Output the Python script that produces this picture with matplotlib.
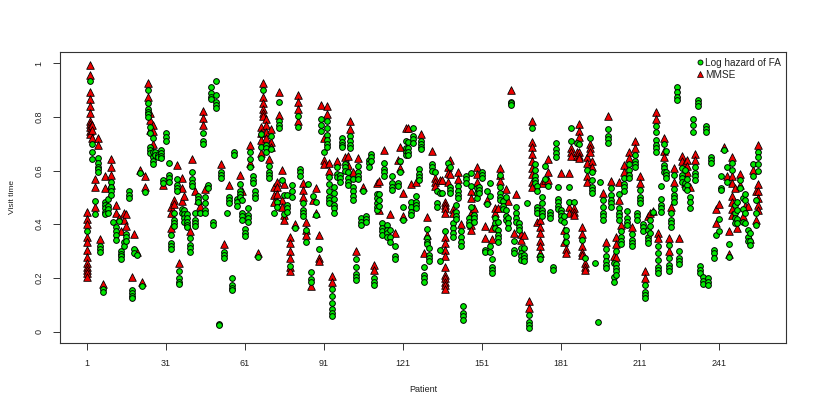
import matplotlib
matplotlib.use('Agg')
import matplotlib.pyplot as plt

plt.rcParams['font.family'] = ['Liberation Sans', 'DejaVu Sans']

x_ticks = [1, 31, 61, 91, 121, 151, 181, 211, 241]
y_ticks = [0, 0.2, 0.4, 0.6, 0.8, 1]
y_tick_labels = ['0', '0.2', '0.4', '0.6', '0.8', '1']

# visit times per patient
mmse_visits = [
    (1, [.445,.42,.40,.354,.332,.302,.277,.255,.242,.23,.217,.205]),
    (2, [.994,.957,.892,.866,.839,.814,.786,.774,.761,.749,.737]),
    (3, [.77,.752,.72]), (4, [.568,.538,.463]), (5, [.72,.696]), (6, [.345]), (7, [.176]),
    (8, [.578,.534]), (10, [.643,.612,.584,.547]), (12, [.471,.441]), (13, [.425]), (14, [.373]),
    (15, [.441,.414]), (16, [.439,.394]), (18, [.202]), (19, [.365]), (20, [.298]), (21, [.602]),
    (22, [.184]), (23, [.578,.537]), (24, [.928,.876]), (25, [.814,.789,.752]), (26, [.77,.748,.698]),
    (30, [.547]), (33, [.466,.441,.385]), (34, [.491,.475]), (35, [.619]), (36, [.255]),
    (37, [.571,.534,.488]), (38, [.506]), (40, [.373]), (41, [.643]), (42, [.525]), (43, [.491]),
    (44, [.468]), (45, [.822,.796,.768]), (46, [.53]), (52, [.624]), (53, [.325]), (55, [.547]),
    (59, [.583]), (60, [.522]), (63, [.696,.627]), (66, [.294]), (67, [.761,.739,.714,.665]),
    (68, [.928,.876,.853,.829,.814,.804]), (69, [.791,.77,.745,.72]), (70, [.643]),
    (71, [.754,.708,.689]), (72, [.538,.509,.484]), (73, [.559,.538,.513]), (74, [.892,.807]),
    (75, [.602,.491,.466]), (76, [.55,.435,.416]), (78, [.354,.329,.301,.273,.242,.226]),
    (80, [.401]), (81, [.882,.857,.83,.783]), (83, [.553,.528,.503]), (84, [.407,.379,.36]),
    (86, [.171]), (87, [.491]), (88, [.534,.441]), (89, [.36,.273,.261]), (90, [.845]),
    (91, [.72,.64,.625]), (92, [.839,.811]), (93, [.627,.6]), (94, [.207,.183]), (96, [.637]),
    (99, [.652]), (100, [.655,.621]), (101, [.784,.754]), (102, [.593]), (103, [.301]), (104, [.645]),
    (106, [.538]), (110, [.248,.23]), (111, [.553]), (112, [.561,.453]), (114, [.676]), (116, [.437]),
    (118, [.369]), (119, [.64]), (120, [.687,.609]), (121, [.516,.432]), (122, [.76]), (123, [.76]),
    (124, [.55]), (126, [.559]), (128, [.735]), (129, [.292]), (130, [.426,.36]), (132, [.673]),
    (133, [.571,.559,.543]), (135, [.565]), (136, [.565]),
    (137, [.484,.472,.46,.441,.354,.329,.304,.28,.242,.211,.199,.186,.174,.158]),
    (138, [.615,.59,.559]), (139, [.64,.588]), (140, [.456,.441]), (142, [.595,.569]), (143, [.401]),
    (147, [.522,.497,.443,.422,.398,.379]), (148, [.46]), (149, [.612,.588,.559]), (152, [.395,.348]),
    (153, [.491]), (155, [.385,.345]), (156, [.46,.441]), (157, [.462]), (158, [.611,.584,.561]),
    (160, [.53]), (161, [.488]), (162, [.899]), (163, [.366]), (164, [.513]), (166, [.363,.342]),
    (167, [.36]), (169, [.112,.087]), (170, [.783,.708,.686,.662,.636,.611,.586,.559,.54]),
    (172, [.41]), (173, [.416,.391,.366,.339,.317,.292]), (174, [.553]), (175, [.565]),
    (176, [.642,.593,.563]), (181, [.59]), (182, [.379,.335]), (183, [.307,.292]), (184, [.59,.466,.441]),
    (185, [.683,.671,.655]), (186, [.46,.447,.435]), (187, [.671,.655]),
    (188, [.774,.749,.724,.671,.655,.646]), (189, [.389,.364,.317,.298,.286]), (190, [.255,.242,.23]),
    (191, [.652,.627,.578,.559]), (192, [.699,.683,.671]), (193, [.637,.615]), (197, [.516]),
    (198, [.333]), (199, [.804]), (200, [.56]), (201, [.28]), (202, [.352,.327,.277]), (203, [.559,.491]),
    (204, [.398]), (205, [.621,.596]), (207, [.671,.646]), (208, [.391]), (209, [.709,.683]),
    (211, [.578,.553]), (213, [.224,.199]), (214, [.429]), (215, [.441]), (216, [.451]), (217, [.817,.793]),
    (218, [.366,.348]), (220, [.723,.673,.652]), (222, [.35,.301]), (223, [.466]), (224, [.609,.559]),
    (226, [.35]), (227, [.655,.634]), (228, [.627,.578,.553]), (229, [.64,.617,.593]), (230, [.54]),
    (232, [.66,.64]), (240, [.456,.404]), (241, [.476]), (243, [.689]), (244, [.578]), (245, [.373,.288]),
    (246, [.652,.578,.553,.506,.481,.456,.435]), (247, [.534]), (248, [.385]), (249, [.588,.547]),
    (250, [.429]), (251, [.468]), (252, [.468]), (253, [.345]), (254, [.602]), (255, [.522,.416]),
    (256, [.696,.549,.522,.497,.472,.453]),
]

fa_visits = [
    (1, [.376]), (2, [.934]), (3, [.698,.668,.643]), (4, [.488,.438]), (5, [.646,.627,.615,.605,.595]),
    (6, [.317,.307,.297]), (7, [.158,.149]), (8, [.484,.472,.46,.447,.438]), (9, [.493,.468,.456,.443]),
    (10, [.559,.538,.523,.508]), (11, [.41]), (12, [.391,.373,.358,.342]), (13, [.411]),
    (14, [.301,.288,.28,.27]), (15, [.335,.317]), (16, [.364,.352,.339]), (17, [.522,.509,.497]),
    (18, [.153,.143,.133,.124]), (19, [.308,.292]), (20, [.286]), (21, [.59]), (22, [.17]), (23, [.519]),
    (24, [.901,.851,.829,.819,.809,.801]), (25, [.764,.739,.689,.677,.667]), (26, [.72,.671,.65,.637,.625]),
    (27, [.671,.658]), (28, [.658,.65]), (29, [.677,.665,.655,.646]), (30, [.565,.553]),
    (31, [.739,.724,.709]), (32, [.627,.584,.571,.559]), (33, [.36,.329,.319,.309]),
    (34, [.441,.416,.404,.394]), (35, [.568,.547,.534,.522]), (36, [.227,.199,.186,.178]), (37, [.456,.441]),
    (38, [.453,.439,.422,.41]), (39, [.439,.422,.41,.398,.389]), (40, [.348,.323,.311,.298]),
    (41, [.596,.568,.555,.543]), (42, [.441,.416,.404,.394]), (43, [.506,.493,.481]), (44, [.443]),
    (45, [.739,.712,.699]), (46, [.503,.478,.453,.441]), (47, [.547,.534]), (48, [.91,.888,.876,.866]),
    (49, [.41,.398]), (50, [.934,.882,.857,.845,.832]), (51, [.029,.024]), (52, [.596,.584,.571]),
    (53, [.298,.286,.273]), (54, [.443]), (55, [.503,.491,.478]), (56, [.201,.174,.161,.153]),
    (57, [.668,.657]), (58, [.493,.481,.468]), (59, [.55,.525,.513,.503]), (60, [.491,.441,.429,.416]),
    (61, [.383,.369,.357]), (62, [.46,.435,.422,.41]), (63, [.671,.643,.615]), (64, [.58,.565,.553]),
    (65, [.525,.509,.497]), (66, [.277]), (67, [.737,.687,.646]), (68, [.901]), (69, [.696,.683,.671]),
    (70, [.617,.596,.584,.571]), (71, [.729,.679]), (72, [.443]), (73, [.484,.463]),
    (74, [.855,.783,.77,.758]), (75, [.563]), (76, [.509,.439]), (77, [.509,.472,.46,.447]), (78, [.246]),
    (79, [.545,.522,.503]), (80, [.385]), (81, [.805,.764]), (82, [.605,.593,.58]),
    (83, [.478,.453,.441,.431]), (84, [.379,.335]), (85, [.55]), (86, [.22,.195,.184]), (87, [.506]),
    (88, [.484,.435]), (89, [.307]), (90, [.791,.77,.748]), (91, [.671]),
    (92, [.786,.76,.733,.714,.699,.687]), (93, [.575,.55,.525,.503,.491,.478]),
    (94, [.158,.133,.108,.083,.068,.058]), (95, [.54,.518,.493,.472,.46,.443]), (96, [.612,.588,.575]),
    (97, [.584,.571,.559]), (98, [.72,.708,.696,.686]), (99, [.625,.612,.6]), (100, [.596,.571,.559,.547]),
    (101, [.727,.712,.696,.683]), (102, [.568,.54,.522,.506,.491]), (103, [.27,.242,.215,.202,.193]),
    (104, [.617,.593,.58,.568]), (105, [.422,.41,.398]), (106, [.523]), (107, [.432,.42,.407]),
    (108, [.64,.627,.615]), (109, [.662,.65,.637]), (110, [.199,.186,.174]), (111, [.512,.497,.478,.466,.453]),
    (112, [.513,.491,.468]), (113, [.406,.385,.373,.36]), (114, [.627,.605,.593,.578]),
    (115, [.398,.379,.366,.354]), (116, [.379,.354,.335]), (117, [.578,.553,.54,.528]), (118, [.32,.28,.27]),
    (119, [.553,.543]), (120, [.637,.593]), (121, [.466,.416]), (122, [.712,.683,.671,.658]),
    (123, [.708,.683,.671,.658]), (124, [.484,.463,.447,.435]), (125, [.76,.729,.717,.704]),
    (126, [.507,.484,.472,.46]), (127, [.605,.588,.575,.563]), (128, [.712,.699,.687,.679]),
    (129, [.242,.211,.199,.186]), (130, [.381,.348,.335,.327]), (131, [.311,.286,.273,.261]),
    (132, [.625,.612,.6]), (133, [.593]), (134, [.524,.478,.466]), (135, [.518,.304,.261]), (136, [.516]),
    (137, [.375]), (138, [.63]), (139, [.612,.54,.528,.516]), (140, [.405,.385,.369,.354]),
    (141, [.47,.445,.432,.42]), (142, [.544,.522,.509,.497]), (143, [.373,.352,.335,.32]),
    (144, [.096,.068,.056,.043]), (145, [.58,.568,.555]), (146, [.422,.41,.398]), (147, [.59,.543,.466]),
    (148, [.435,.422,.41]), (149, [.534,.516,.497]), (150, [.54,.528,.516]), (151, [.596,.584,.571]),
    (152, [.304,.298]), (153, [.525,.476]), (154, [.555,.507,.317,.298]), (155, [.27,.242,.23,.217]),
    (156, [.422,.404,.385]), (157, [.41,.379,.36,.348,.335]), (158, [.584,.538,.516,.503,.491]),
    (159, [.488,.468,.456]), (160, [.503,.453,.429,.416]), (161, [.422,.404,.385]), (162, [.857,.851,.845]),
    (163, [.339,.304,.292]), (164, [.466,.441,.422,.41]), (165, [.404,.391,.379]), (166, [.311,.292,.28,.267]),
    (167, [.311,.286,.273,.261]), (168, [.478]), (169, [.062,.037,.025,.012]), (170, [.76]),
    (171, [.625,.602,.578,.565,.553]), (172, [.543,.522,.466,.453,.441]), (173, [.28,.27]),
    (174, [.503,.478,.453,.441,.429]), (175, [.617,.568]), (176, [.543]), (177, [.447,.435,.422]),
    (178, [.24,.23]), (179, [.702,.679,.665,.652]), (180, [.54,.494,.481,.468,.456]),
    (181, [.453,.441,.429,.416]), (182, [.429,.41]), (183, [.379,.357,.335]), (184, [.537,.484]),
    (185, [.757,.712]), (186, [.482]), (187, [.702]), (188, [.698]), (189, [.342]), (190, [.273]),
    (191, [.602]), (192, [.722]), (193, [.593,.565,.54,.528,.516]), (194, [.257]), (195, [.035]),
    (196, [.559]), (197, [.491,.466,.441,.429,.416]), (198, [.308,.28,.261,.248,.236]),
    (199, [.754,.729,.717,.704]), (200, [.534,.509,.491,.478,.466]), (201, [.255,.205,.186]),
    (202, [.301,.252,.236,.224,.211]), (203, [.513,.462,.441,.429,.416]), (204, [.373,.352,.339,.327]),
    (205, [.571,.55,.538,.525]), (206, [.448,.422,.41,.398]), (207, [.625,.602,.584,.571]),
    (208, [.365,.342,.329,.317]), (209, [.658,.637,.625,.612]), (210, [.441,.429,.416]),
    (211, [.528,.503,.491,.478]), (212, [.4,.388,.375]), (213, [.174,.149,.137,.124]),
    (214, [.379,.354,.342,.329]), (215, [.414,.395,.369]), (216, [.446]),
    (217, [.766,.742,.714,.696,.683,.671]), (218, [.317,.292,.267,.242,.23,.217]),
    (219, [.543,.494,.472,.46,.447]), (220, [.698,.621,.609,.596]), (221, [.673,.596,.584,.571]),
    (222, [.323,.273,.248,.236,.224]), (223, [.441,.416,.404,.391]), (224, [.584,.53,.509,.497,.484]),
    (225, [.913,.894,.876,.863]), (226, [.301,.273,.261,.252]), (227, [.611,.584,.571,.559]),
    (228, [.602,.553,.534]), (229, [.568,.547,.528]), (230, [.503,.482,.46]), (231, [.793,.768,.745]),
    (232, [.612,.59,.578,.565]), (233, [.863,.851,.839]), (234, [.245,.23,.217]), (235, [.202,.19,.178]),
    (236, [.766,.754,.742]), (237, [.199,.186,.174]), (238, [.652,.64,.627]), (239, [.304,.292,.273]),
    (240, [.358]), (241, [.42,.375]), (242, [.58,.534,.528]), (243, [.677]), (244, [.612,.559]),
    (245, [.325,.277]), (246, [.627,.602]), (247, [.472,.441,.422,.404]), (248, [.481,.453,.42,.404]),
    (249, [.565,.534]), (250, [.497,.456,.41]), (251, [.513,.491,.441,.404]), (252, [.379,.354,.339]),
    (253, [.366,.339,.323]), (254, [.625,.58]), (255, [.491,.441,.398]), (256, [.671,.65,.625,.6]),
]


def flatten(visits):
    xs, ys = [], []
    for patient, times in visits:
        for t in times:
            xs.append(patient)
            ys.append(t)
    return xs, ys


fig = plt.figure(figsize=(8.17, 4.09), dpi=100)
ax = fig.add_axes([60 / 817, 1 - 342.5 / 409, 726 / 817, 290.5 / 409])

xs, ys = flatten(mmse_visits)
ax.scatter(xs, ys, marker='^', s=30, c='#f00000', edgecolors='black', linewidths=0.6, zorder=2)
xs, ys = flatten(fa_visits)
ax.scatter(xs, ys, marker='o', s=17, c='#00e800', edgecolors='black', linewidths=0.7, zorder=3)

ax.set_xlim(-9.25, 266.5)
ax.set_ylim(-0.041, 1.042)
ax.set_xticks(x_ticks)
ax.set_yticks(y_ticks)
ax.set_yticklabels(y_tick_labels, rotation=90, va='center')
ax.tick_params(labelsize=6.5, length=5, width=0.7, pad=7, color='#333333', labelcolor='#222222')
for spine in ax.spines.values():
    spine.set_linewidth(0.8)
    spine.set_color('#333333')
ax.set_xlabel('Patient', fontsize=6.5, labelpad=12, color='#222222')
ax.set_ylabel('Visit time', fontsize=6, labelpad=13, color='#222222')

# legend sits tight in the top right corner like R's legend()
legend_handles = [
    plt.Line2D([], [], linestyle='none', marker='o', markersize=3.6, markerfacecolor='#00e800',
               markeredgecolor='black', markeredgewidth=0.6),
    plt.Line2D([], [], linestyle='none', marker='^', markersize=4.6, markerfacecolor='#f00000',
               markeredgecolor='black', markeredgewidth=0.5),
]
ax.legend(legend_handles, ['Log hazard of FA', 'MMSE'], loc='upper right', frameon=False, fontsize=7.2,
          handlelength=0.6, handletextpad=0.15, labelspacing=0.22, borderaxespad=0, borderpad=0.55,
          labelcolor='#222222')

fig.savefig('out.png', dpi=100)
